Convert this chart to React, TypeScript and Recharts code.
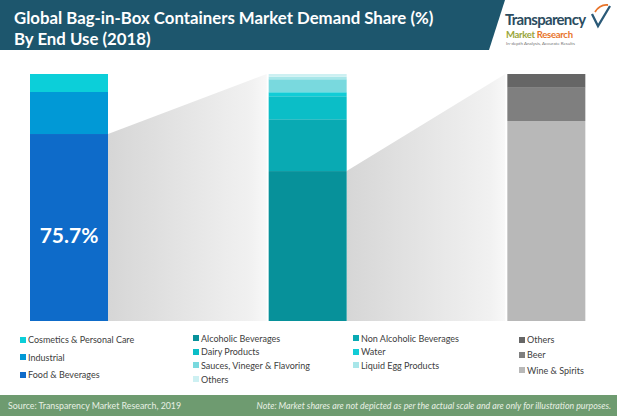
import React from 'react';
import { BarChart, Bar, XAxis, YAxis, LabelList } from 'recharts';

// bars: whole market by end use, then food & beverages split, then alcoholic split
const groups = ['End Use', 'Food & Beverages', 'Alcoholic Beverages'];

const endUseNames = ['Food & Beverages', 'Industrial', 'Cosmetics & Personal Care'];
const endUseShares = [75.7, 17.0, 7.3];

const foodNames = [
  'Alcoholic Beverages',
  'Non Alcoholic Beverages',
  'Dairy Products',
  'Water',
  'Sauces, Vineger & Flavoring',
  'Liquid Egg Products',
  'Others',
];
const foodShares = [60.7, 21.0, 9.3, 1.6, 5.3, 1.0, 1.1];

const alcoholNames = ['Wine & Spirits', 'Beer', 'Others'];
const alcoholShares = [81.0, 13.4, 5.6];

const endUseColors = ['#0e6bc9', '#0199d6', '#0ccfd9'];
const foodColors = ['#07919a', '#09aab3', '#0bbec7', '#12ccd6', '#79d9de', '#a8e6e9', '#cdf0f2'];
const alcoholColors = ['#b8b8b8', '#7f7f7f', '#666666'];

const CHART_W = 716;
const CHART_H = 416;
const BAND = CHART_W / groups.length;

const seriesSets = [
  { prefix: 'e', names: endUseNames, values: endUseShares, colors: endUseColors },
  { prefix: 'f', names: foodNames, values: foodShares, colors: foodColors },
  { prefix: 'a', names: alcoholNames, values: alcoholShares, colors: alcoholColors },
];

const data = groups.map((group, gi) => {
  const row: Record<string, any> = { group };
  seriesSets.forEach((set, si) => {
    set.values.forEach((v, i) => {
      row[set.prefix + i] = si === gi ? v : 0;
    });
  });
  return row;
});

// bottom segment that is broken out in the next bar gets a grey "zoom" connector
const connectorShape = (key: string) => (props: any) => {
  const { x, y, width, height, fill, payload } = props;
  const value = payload[key];
  if (!value || !height) return <g />;
  const bottom = y + height;
  const top = bottom - (height * 100) / value;
  const nx = x + BAND;
  return (
    <g>
      <polygon
        points={`${x + width},${y} ${nx - 2},${top} ${nx - 2},${bottom} ${x + width},${bottom}`}
        fill="url(#fadeGrey)"
      />
      <rect x={x} y={y} width={width} height={height} fill={fill} />
    </g>
  );
};

const legendCols = [
  { left: 20, top: 334, gap: 17.5, items: [2, 1, 0].map((i) => ({ name: endUseNames[i], color: endUseColors[i] })) },
  { left: 193, top: 332.5, gap: 13.7, items: [0, 2, 4, 6].map((i) => ({ name: foodNames[i], color: foodColors[i] })) },
  { left: 353, top: 332.5, gap: 13.7, items: [1, 3, 5].map((i) => ({ name: foodNames[i], color: foodColors[i] })) },
  { left: 519, top: 334, gap: 15.3, items: [2, 1, 0].map((i) => ({ name: alcoholNames[i], color: alcoholColors[i] })) },
];

export default function App() {
  return (
    <div
      style={{
        position: 'absolute',
        left: 0,
        top: 0,
        width: 617,
        height: 416,
        overflow: 'hidden',
        background: '#fff',
        fontFamily: 'Lato, sans-serif',
      }}
    >
      {/* header banner */}
      <svg width={617} height={52} style={{ position: 'absolute', left: 0, top: 0 }}>
        <polygon points="0,0 505,0 489,50 0,50" fill="#1d566d" />
        <text x={14} y={24} fill="#fff" fontSize={16.8} fontWeight={700}>
          Global Bag-in-Box Containers Market Demand Share (%)
        </text>
        <text x={14} y={45} fill="#fff" fontSize={16.8} fontWeight={700}>
          By End Use (2018)
        </text>
        {/* logo */}
        <text x={505} y={25} fill="#2b4c60" fontSize={15} fontWeight={700} letterSpacing={-0.7}>
          Transparency
        </text>
        <text x={506} y={38} fontSize={9.5} fontWeight={700} letterSpacing={-0.3}>
          <tspan fill="#9aa53a">Market </tspan>
          <tspan fill="#e8742a">Research</tspan>
        </text>
        <text x={506} y={45} fill="#777" fontSize={4.5}>
          In-depth Analysis, Accurate Results
        </text>
        <path d="M592,14 L598,26 L610,6" stroke="#2b5a78" strokeWidth={2.3} fill="none" />
        <path d="M595,12 Q600,4 608,5" stroke="#e8742a" strokeWidth={1.8} fill="none" />
      </svg>

      <div style={{ position: 'absolute', left: -50, top: 0 }}>
        <BarChart
          width={CHART_W}
          height={CHART_H}
          data={data}
          margin={{ top: 74, right: 0, bottom: 95, left: 0 }}
          barSize={78}
        >
          <defs>
            <linearGradient id="fadeGrey" x1="0" y1="0" x2="1" y2="0">
              <stop offset="0%" stopColor="#d6d6d6" />
              <stop offset="90%" stopColor="#f1f1f1" />
              <stop offset="100%" stopColor="#f8f8f8" />
            </linearGradient>
          </defs>
          <XAxis dataKey="group" hide />
          <YAxis hide domain={[0, 100]} />
          {seriesSets.map((set) =>
            set.names.map((name, i) => {
              const key = set.prefix + i;
              const connects = (set.prefix === 'e' || set.prefix === 'f') && i === 0;
              return (
                <Bar
                  key={key}
                  dataKey={key}
                  name={name}
                  stackId="s"
                  fill={set.colors[i]}
                  isAnimationActive={false}
                  shape={connects ? connectorShape(key) : undefined}
                >
                  {key === 'e0' && (
                    <LabelList
                      dataKey={key}
                      content={(p: any) =>
                        p.value ? (
                          <text
                            x={p.x + p.width / 2}
                            y={p.y + p.height / 2 + 15}
                            textAnchor="middle"
                            fill="#fff"
                            fontSize={21}
                            fontWeight={700}
                          >
                            {p.value}%
                          </text>
                        ) : null
                      }
                    />
                  )}
                </Bar>
              );
            })
          )}
        </BarChart>
      </div>

      {/* legend */}
      {legendCols.map((col, ci) =>
        col.items.map((it, ri) => (
          <div
            key={ci + '-' + ri}
            style={{
              position: 'absolute',
              left: col.left,
              top: col.top + ri * col.gap,
              height: 11,
              display: 'flex',
              alignItems: 'center',
              fontSize: 9,
              color: '#404040',
              whiteSpace: 'nowrap',
            }}
          >
            <span style={{ width: 6, height: 6, background: it.color, marginRight: 2 }} />
            {it.name}
          </div>
        ))
      )}

      {/* footer */}
      <div
        style={{
          position: 'absolute',
          left: 0,
          top: 395,
          width: 617,
          height: 21,
          background: '#6e9b70',
          color: '#e8f0e4',
          fontSize: 8.8,
          lineHeight: '22px',
        }}
      >
        <span style={{ position: 'absolute', left: 8 }}>Source: Transparency Market Research, 2019</span>
        <span style={{ position: 'absolute', right: 6, fontStyle: 'italic' }}>
          Note: Market shares are not depicted as per the actual scale and are only for illustration purposes.
        </span>
      </div>
    </div>
  );
}
